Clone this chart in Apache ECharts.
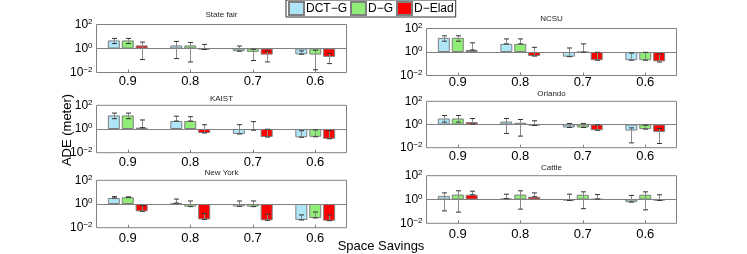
<!DOCTYPE html>
<html>
<head>
<meta charset="utf-8">
<script src="https://cdn.jsdelivr.net/npm/echarts@6/dist/echarts.min.js"></script>
<style>
html,body{margin:0;padding:0;background:#fff;}
#chart{width:747px;height:254px;}
</style>
</head>
<body>
<div id="chart"></div>
<script>
// ---- data ----
const categories = ['0.9', '0.8', '0.7', '0.6'];
const seriesNames = ['DCT−G', 'D−G', 'D−Elad'];
const panelTitles = ['State fair', 'NCSU', 'KAIST', 'Orlando', 'New York', 'Cattle'];
const yTickValues = [0.01, 1, 100];
const yTickLabels = ['10{s|−2}', '10{s|0}', '10{s|2}'];

// each: [DCT-G, D-G, D-Elad], values per category
const stateFairMean = [[4.7, 1.8, 0.6, 0.33], [4.7, 1.8, 0.52, 0.31], [1.8, 0.83, 0.31, 0.2]];
const stateFairLow  = [[2.6, 0.145, 0.6, 0.33], [2.6, 0.076, 0.1, 0.017], [0.12, 0.83, 0.076, 0.055]];
const stateFairHigh = [[6.9, 3.9, 1.6, 0.63], [6.9, 3.2, 0.87, 0.72], [3.4, 2.2, 0.6, 0.38]];

const ncsuMean = [[16, 4.9, 0.4, 0.2], [16, 4.9, 0.95, 0.2], [1.5, 0.45, 0.2, 0.16]];
const ncsuLow  = [[8.3, 4.9, 0.4, 0.2], [8.3, 4.9, 0.95, 0.2], [1.5, 0.45, 0.2, 0.14]];
const ncsuHigh = [[24, 13, 2.2, 0.81], [24, 13, 4.9, 0.93], [6, 2.5, 0.95, 0.68]];

const kaistMean = [[14, 4.7, 0.38, 0.2], [14, 4.7, 0.8, 0.22], [1.3, 0.46, 0.21, 0.15]];
const kaistLow  = [[7.4, 4.7, 0.38, 0.2], [7.4, 4.7, 0.8, 0.22], [1.3, 0.46, 0.21, 0.15]];
const kaistHigh = [[22, 12, 2.3, 0.72], [22, 11, 4.2, 0.83], [5.8, 2.3, 0.95, 0.72]];

const orlandoMean = [[3.3, 1.8, 0.55, 0.3], [3.3, 1.4, 0.55, 0.4], [1.6, 0.82, 0.32, 0.23]];
const orlandoLow  = [[1.6, 0.17, 0.55, 0.026], [1.6, 0.1, 0.55, 0.4], [1.1, 0.82, 0.32, 0.023]];
const orlandoHigh = [[6, 3.3, 1.23, 0.51], [6, 2.7, 1.23, 0.87], [3.3, 2.1, 0.93, 0.45]];

const newYorkMean = [[3.2, 1.2, 0.63, 0.045], [3.7, 0.6, 0.6, 0.066], [0.24, 0.05, 0.042, 0.039]];
const newYorkLow  = [[3.2, 1.2, 0.63, 0.045], [3.7, 0.6, 0.6, 0.066], [0.24, 0.05, 0.042, 0.039]];
const newYorkHigh = [[4.2, 2.6, 1.8, 0.12], [3.9, 1.8, 1.8, 0.21], [0.72, 0.16, 0.14, 0.12]];

const cattleMean = [[2.0, 1.2, 0.83, 0.6], [2.6, 2.6, 2.5, 2.5], [2.5, 1.7, 1.1, 0.83]];
const cattleLow  = [[0.11, 1.2, 0.83, 0.6], [0.087, 0.155, 0.17, 0.135], [2.5, 1.7, 1.1, 0.83]];
const cattleHigh = [[3.6, 2.8, 2.8, 2.2], [5.4, 5.4, 4.4, 4.4], [5, 3.6, 2.6, 2.5]];

const panels = [
  {mean: stateFairMean, low: stateFairLow, high: stateFairHigh},
  {mean: ncsuMean, low: ncsuLow, high: ncsuHigh},
  {mean: kaistMean, low: kaistLow, high: kaistHigh},
  {mean: orlandoMean, low: orlandoLow, high: orlandoHigh},
  {mean: newYorkMean, low: newYorkLow, high: newYorkHigh},
  {mean: cattleMean, low: cattleLow, high: cattleHigh}
];

// ---- layout / style ----
const layout = [
  {left: 96.5, top: 24.5, height: 48, margin: 2.5, titleY: 15},
  {left: 426.5, top: 28.5, height: 47, margin: 0, titleY: 19},
  {left: 96.5, top: 105.3, height: 47.4, margin: 3, titleY: 98.3},
  {left: 426.5, top: 101.3, height: 46.4, margin: 2, titleY: 94},
  {left: 96.5, top: 180.3, height: 47.4, margin: 4, titleY: 172.3},
  {left: 426.5, top: 175.7, height: 47.6, margin: 5, titleY: 168}
];
const gridWidth = 250;
const colors = ['#aee6f8', '#90ee78', '#ff0000'];
const barOffsets = [-14, 0, 14];
const FONT = 'Liberation Sans, Arial, sans-serif';

const grid = [], xAxis = [], yAxis = [], series = [], graphic = [];
layout.forEach((L, i) => {
  grid.push({left: L.left, top: L.top, width: gridWidth, height: L.height, show: true,
    borderColor: '#808080', borderWidth: 1, backgroundColor: 'transparent', containLabel: false});
  xAxis.push({type: 'category', gridIndex: i, data: categories, position: 'bottom',
    axisLine: {show: false},
    axisTick: {show: true, inside: true, length: 3, alignWithLabel: true, lineStyle: {color: '#808080'}},
    axisLabel: {margin: L.margin, fontSize: 13, color: '#000', fontFamily: FONT}
  });
  yAxis.push({type: 'log', gridIndex: i, logBase: 10, min: 0.01, max: 100, interval: 2,
    axisLine: {show: false}, axisTick: {show: false}, splitLine: {show: false}, minorTick: {show: false},
    axisLabel: {margin: 4, color: '#000', fontFamily: FONT,
      formatter: function (v) {
        const e = Math.round(Math.log10(v));
        const k = yTickValues.findIndex(t => Math.round(Math.log10(t)) === e);
        return k >= 0 ? yTickLabels[k] : '';
      },
      rich: {s: {fontSize: 8, verticalAlign: 'top', fontFamily: FONT, color: '#000'}},
      fontSize: 12, lineHeight: 14
    }
  });
  const P = panels[i];
  for (let s = 0; s < 3; s++) {
    const ser = {type: 'bar', name: seriesNames[s], xAxisIndex: i, yAxisIndex: i,
      data: P.mean[s], barWidth: 12, barGap: '16%',
      itemStyle: {color: colors[s], borderColor: '#7f7f7f', borderWidth: 1},
      emphasis: {disabled: true}, animation: false, z: 2};
    if (s === 0) {
      ser.markLine = {silent: true, symbol: 'none', label: {show: false},
        lineStyle: {color: '#808080', width: 1, type: 'solid'}, data: [{yAxis: 1}], animation: false};
    }
    series.push(ser);
  }
  const errData = [];
  for (let s = 0; s < 3; s++) {
    for (let c = 0; c < categories.length; c++) {
      errData.push([c, P.low[s][c], P.high[s][c], s]);
    }
  }
  series.push({type: 'custom', xAxisIndex: i, yAxisIndex: i, data: errData, z: 5, animation: false,
    silent: true, encode: {x: 0, y: [1, 2]},
    renderItem: function (params, api) {
      const c = api.value(0), lo = api.value(1), hi = api.value(2), k = api.value(3);
      const pL = api.coord([c, lo]);
      const pH = api.coord([c, hi]);
      const x = Math.round(pL[0] + barOffsets[k]) + 0.5;
      return {type: 'group', children: [
        {type: 'line', shape: {x1: x, y1: pL[1], x2: x, y2: pH[1]}, style: {stroke: '#8a8a8a', lineWidth: 1}},
        {type: 'line', shape: {x1: x - 2.5, y1: pH[1], x2: x + 2.5, y2: pH[1]}, style: {stroke: '#333', lineWidth: 1}},
        {type: 'line', shape: {x1: x - 2.5, y1: pL[1], x2: x + 2.5, y2: pL[1]}, style: {stroke: '#333', lineWidth: 1}}
      ]};
    }
  });
  graphic.push({type: 'text', x: L.left + gridWidth / 2, y: L.titleY,
    style: {text: panelTitles[i], font: '8px ' + FONT, fill: '#222', align: 'center', verticalAlign: 'middle',
      textAlign: 'center', textVerticalAlign: 'middle'}});
});

graphic.push({type: 'text', x: 67, y: 130, rotation: Math.PI / 2,
  style: {text: 'ADE (meter)', font: '13px ' + FONT, fill: '#000', align: 'center', verticalAlign: 'middle',
    textAlign: 'center', textVerticalAlign: 'middle'}});
graphic.push({type: 'text', x: 381, y: 246,
  style: {text: 'Space Savings', font: '13px ' + FONT, fill: '#000', align: 'center', verticalAlign: 'middle',
    textAlign: 'center', textVerticalAlign: 'middle'}});

const chart = echarts.init(document.getElementById('chart'), null, {renderer: 'canvas'});
chart.setOption({
  animation: false,
  backgroundColor: '#fff',
  legend: {data: seriesNames, left: 286, top: 0, orient: 'horizontal',
    itemWidth: 15, itemHeight: 13, itemGap: 3, padding: [1, 2, 1, 2],
    borderColor: '#333', borderWidth: 1, backgroundColor: '#fff',
    textStyle: {fontSize: 12, fontFamily: FONT, color: '#000', padding: [0, 0, 0, -3]},
    icon: 'rect', selectedMode: false},
  grid: grid, xAxis: xAxis, yAxis: yAxis, series: series, graphic: graphic
});
</script>
</body>
</html>
